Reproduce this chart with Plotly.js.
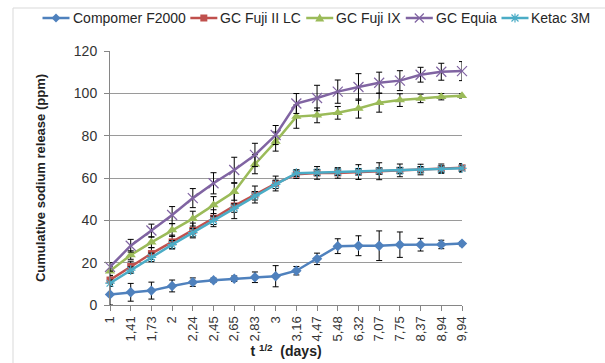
<!DOCTYPE html>
<html>
<head>
<meta charset="utf-8">
<script src="https://cdn.plot.ly/plotly-3.0.1.min.js"></script>
<style>html,body{margin:0;padding:0;background:#fff;}#chart{width:605px;height:363px;}</style>
</head>
<body>
<div id="chart"></div>
<script>
// Category labels (t^1/2, days)
const categories = ["1","1,41","1,73","2","2,24","2,45","2,65","2,83","3","3,16","4,47","5,48","6,32","7,07","7,75","8,37","8,94","9,94"];

// Series values (ppm)
const compomerF2000 = [5.0, 6.0, 6.8, 9.0, 10.8, 11.7, 12.4, 13.1, 13.6, 16.2, 21.8, 27.8, 28.0, 28.0, 28.5, 28.5, 28.6, 29.0];
const compomerF2000Err = [5, 4.2, 4, 2.8, 2, 1, 1.3, 2.5, 5, 2, 2.7, 3.5, 4.7, 7, 6, 3, 2, 1];

const gcFujiIILC = [11.8, 18.2, 24.3, 29.8, 35.2, 41.0, 46.8, 52.2, 57.4, 61.8, 62.4, 62.4, 62.8, 63.2, 63.6, 64.0, 64.4, 64.8];
const gcFujiIILCErr = [2, 2.5, 2.8, 3.2, 3.5, 4, 6, 4, 3.5, 2, 3, 2.5, 3.5, 4, 3, 2.5, 2.2, 2];

const gcFujiIX = [16.0, 23.6, 29.6, 35.4, 40.8, 47.2, 53.5, 66.5, 77.2, 89.0, 89.6, 90.8, 92.8, 95.6, 96.8, 97.6, 98.4, 98.8];
const gcFujiIXErr = [2, 2, 2.5, 3, 3.5, 4, 4, 4.5, 4.5, 5.5, 3.5, 3, 4.5, 4.5, 3, 2, 1.5, 1];

const gcEquia = [18.0, 28.0, 35.2, 42.5, 50.5, 57.5, 63.8, 70.9, 80.3, 95.2, 97.8, 100.8, 103.0, 105.0, 106.0, 108.8, 110.2, 110.5];
const gcEquiaErr = [2, 3, 3, 4, 4.5, 5, 6, 5.5, 4.5, 4.7, 6, 5.5, 6.3, 5, 4.7, 3.5, 4, 4.5];

const ketac3M = [10.3, 16.5, 22.5, 28.5, 34.2, 40.0, 45.8, 51.6, 57.0, 62.3, 62.6, 62.8, 63.0, 63.3, 63.5, 63.9, 64.2, 64.6];
const ketac3MErr = [1.5, 1.5, 2, 2, 2, 2, 2, 2, 2, 1.5, 1.5, 1.5, 1.5, 1.5, 1.5, 1.5, 1.5, 1.5];

const seriesNames = ["Compomer F2000", "GC Fuji II LC", "GC Fuji IX", "GC Equia", "Ketac 3M"];
const seriesColors = ['#4F81BD', '#C0504D', '#9BBB59', '#8064A2', '#4BACC6'];

function mk(name, y, err, color, symbol, size, open) {
  return {
    type: 'scatter', mode: 'lines+markers', name: name,
    x: categories, y: y, cliponaxis: false, showlegend: false,
    line: {color: color, width: 2.5},
    marker: {symbol: symbol, size: size, color: color, line: {color: color, width: open ? 1.2 : 0}},
    error_y: {type: 'data', array: err, visible: true, color: '#000', thickness: 1, width: 3}
  };
}

const data = [
  mk(seriesNames[0], compomerF2000, compomerF2000Err, seriesColors[0], 'diamond', 8, false),
  mk(seriesNames[1], gcFujiIILC, gcFujiIILCErr, seriesColors[1], 'square', 7, false),
  mk(seriesNames[2], gcFujiIX, gcFujiIXErr, seriesColors[2], 'triangle-up', 9, false),
  mk(seriesNames[3], gcEquia, gcEquiaErr, seriesColors[3], 'x-thin-open', 10, true),
  mk(seriesNames[4], ketac3M, ketac3MErr, seriesColors[4], 'asterisk-open', 8, true)
];

const W = 605, H = 363, L = 110, R = 143, T = 51, B = 58;
const pw = W - L - R, ph = H - T - B;
function px2x(p) { return (p - L) / pw; }
function px2y(p) { return (H - B - p) / ph; }

// Legend drawn in one row like the original (line + marker + label)
const legendFont = {family: 'Arial, Liberation Sans, sans-serif', size: 14, color: '#262626'};
const ctx = document.createElement('canvas').getContext('2d');
ctx.font = '14px Arial, "Liberation Sans", sans-serif';
const markerPaths = [
  {path: 'M0,4.5 L4.5,0 L0,-4.5 L-4.5,0 Z', fill: true},
  {path: 'M-3.5,-3.5 L3.5,-3.5 L3.5,3.5 L-3.5,3.5 Z', fill: true},
  {path: 'M-4.5,-3.5 L4.5,-3.5 L0,4.5 Z', fill: true},
  {path: 'M-4.5,-4.5 L4.5,4.5 M-4.5,4.5 L4.5,-4.5', fill: false},
  {path: 'M-3.5,-3.5 L3.5,3.5 M-3.5,3.5 L3.5,-3.5 M0,-4.5 L0,4.5 M-4.5,0 L4.5,0', fill: false}
];
const legendY = 18;
const shapes = [
  {type: 'line', xref: 'paper', yref: 'paper', x0: px2x(13), x1: px2x(605), y0: px2y(8), y1: px2y(8), line: {color: '#d9d9d9', width: 1}, layer: 'below'},
  {type: 'line', xref: 'paper', yref: 'paper', x0: px2x(13), x1: px2x(13), y0: px2y(8), y1: px2y(363), line: {color: '#d9d9d9', width: 1}, layer: 'below'}
];
const annotations = [];
let lx = 42.5;
seriesNames.forEach(function(name, i) {
  const c = seriesColors[i];
  shapes.push({type: 'line', xref: 'paper', yref: 'paper', x0: px2x(lx), x1: px2x(lx + 27), y0: px2y(legendY), y1: px2y(legendY), line: {color: c, width: 2.5}});
  const mp = markerPaths[i];
  shapes.push({type: 'path', xref: 'paper', yref: 'paper', xsizemode: 'pixel', ysizemode: 'pixel',
    xanchor: px2x(lx + 13.5), yanchor: px2y(legendY), path: mp.path,
    fillcolor: mp.fill ? c : 'rgba(0,0,0,0)', line: {color: c, width: mp.fill ? 0 : 1.2}});
  const tx = lx + 29;
  annotations.push({xref: 'paper', yref: 'paper', x: px2x(tx), y: px2y(legendY), xanchor: 'left', yanchor: 'middle',
    text: name, showarrow: false, font: legendFont, borderpad: 0});
  lx = tx + ctx.measureText(name).width + 6;
});

const layout = {
  width: W, height: H,
  margin: {l: L, r: R, t: T, b: B, pad: 0},
  paper_bgcolor: '#fff', plot_bgcolor: '#fff',
  font: {family: 'Arial, Liberation Sans, sans-serif', color: '#333'},
  showlegend: false,
  xaxis: {
    type: 'category', range: [0, 17],
    showgrid: false, zeroline: false,
    showline: true, linecolor: '#868686', linewidth: 1,
    ticks: 'outside', ticklen: 5, tickcolor: '#868686',
    tickangle: -90, tickfont: {size: 13, color: '#333'},
    title: {text: 't <sup>1/2</sup>  (days)', font: {size: 14, weight: 'bold', color: '#222'}, standoff: 4},
    automargin: false
  },
  yaxis: {
    range: [0, 120], dtick: 20, tick0: 0,
    showgrid: true, gridcolor: '#9a9a9a', gridwidth: 1,
    zeroline: false,
    showline: true, linecolor: '#868686', linewidth: 1,
    ticks: 'outside', ticklen: 5, tickcolor: '#868686',
    tickfont: {size: 14, color: '#333'}, ticklabelstandoff: 4,
    title: {text: 'Cumulative sodium release (ppm)', font: {size: 13, weight: 'bold', color: '#222'}, standoff: 25},
    automargin: false
  },
  shapes: shapes,
  annotations: annotations
};

Plotly.newPlot('chart', data, layout, {displayModeBar: false, staticPlot: true});
</script>
</body>
</html>
